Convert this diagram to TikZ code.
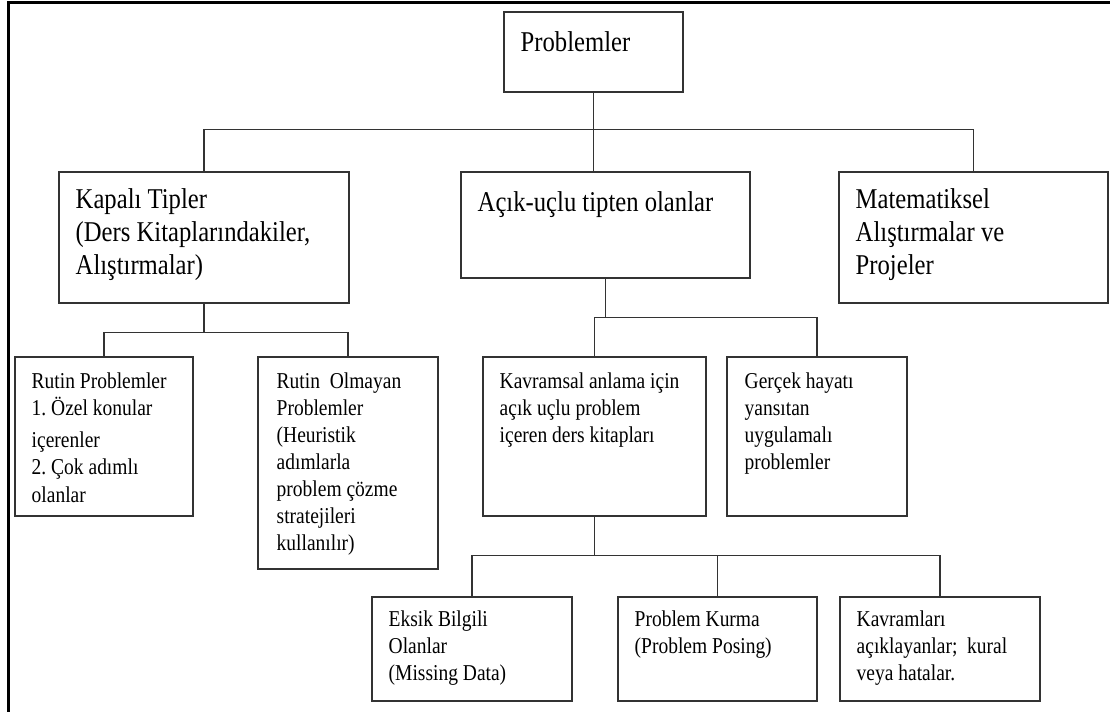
\documentclass[tikz,border=0pt]{standalone}
\usepackage{fontspec}
\setmainfont{Liberation Serif}[FakeStretch=0.86]
\usetikzlibrary{fit,calc}
\newcommand{\buyukyazi}{\fontsize{21.5pt}{24.75pt}\selectfont}
\newcommand{\kucukyazi}{\fontsize{17pt}{20.3pt}\selectfont}

\begin{document}
\begin{tikzpicture}[x=0.75pt, y=-0.75pt,
  kutu/.style={draw=black!80, line width=0.8pt, inner sep=0pt},
  yazi/.style={anchor=north west, inner sep=0pt, align=left,
    execute at begin node=\strut},
  buyuk/.style={yazi, font=\buyukyazi},
  kucuk/.style={yazi, font=\kucukyazi},
  bag/.style={draw=black!80, line width=0.8pt}]
\useasboundingbox (0,0) rectangle (1110,712);
\draw[line width=2.2pt] (8.5,712) -- (8.5,2.5) -- (1110,2.5);

% kutular
\node[kutu, fit={(504,12) (683,92)}] (problemler) {};
\node[kutu, fit={(59,172) (349,303)}] (kapali) {};
\node[kutu, fit={(461,172) (750,278)}] (acik) {};
\node[kutu, fit={(839,172) (1108,303)}] (mat) {};
\node[kutu, fit={(15,357) (193,516)}] (rutin) {};
\node[kutu, fit={(258,357) (438,569)}] (olmayan) {};
\node[kutu, fit={(483,357) (706,516)}] (kavram) {};
\node[kutu, fit={(727,357) (907,516)}] (gercek) {};
\node[kutu, fit={(372,597) (572,701)}] (eksik) {};
\node[kutu, fit={(618,597) (817,701)}] (kurma) {};
\node[kutu, fit={(840,597) (1040,701)}] (kural) {};

% yazilar
\node[buyuk] (problemler-y) at ([shift={(17,17)}]problemler.north west) {Problemler};
\node[buyuk] (kapali-y) at ([shift={(17,17)}]kapali.north west)
  {Kapalı Tipler\\(Ders Kitaplarındakiler,\\Alıştırmalar)};
\node[buyuk] (acik-y) at ([shift={(17,17)}]acik.north west) {Açık-uçlu tipten olanlar};
\node[buyuk] (mat-y) at ([shift={(17,17)}]mat.north west)
  {Matematiksel\\Alıştırmalar ve\\Projeler};
\node[kucuk] (rutin-y) at ([shift={(17,16)}]rutin.north west)
  {Rutin Problemler\\1.\ Özel konular\\[4pt]içerenler\\2.\ Çok adımlı\\olanlar};
\node[kucuk] (olmayan-y) at ([shift={(19,16)}]olmayan.north west)
  {Rutin\ \ Olmayan\\Problemler\\(Heuristik\\adımlarla\\problem çözme\\stratejileri\\kullanılır)};
\node[kucuk] (kavram-y) at ([shift={(17,16)}]kavram.north west)
  {Kavramsal anlama için\\açık uçlu problem\\içeren ders kitapları};
\node[kucuk] (gercek-y) at ([shift={(18,16)}]gercek.north west)
  {Gerçek hayatı\\yansıtan\\uygulamalı\\problemler};
\node[kucuk] (eksik-y) at ([shift={(17,14)}]eksik.north west)
  {Eksik Bilgili\\Olanlar\\(Missing Data)};
\node[kucuk] (kurma-y) at ([shift={(17,14)}]kurma.north west)
  {Problem Kurma\\(Problem Posing)};
\node[kucuk] (kural-y) at ([shift={(17,14)}]kural.north west)
  {Kavramları\\açıklayanlar;\ \ kural\\veya hatalar.};

% baglantilar
\draw[bag] (problemler.south) -- (problemler.south |- acik.north);
\draw[bag] (kapali.north) -- ++(0,-42) -| (mat.north);
\draw[bag] (kapali.south) -- ++(0,29) coordinate (k1);
\draw[bag] (rutin.north) |- (k1) -| (olmayan.north);
\draw[bag] (acik.south) -- ++(0,39) coordinate (a1);
\draw[bag] (kavram.north) |- (a1) -| (gercek.north);
\draw[bag] (kavram.south) -- ++(0,39) coordinate (b1);
\draw[bag] (eksik.north) |- (b1) -| (kural.north);
\draw[bag] (kurma.north) -- (kurma.north |- b1);
\end{tikzpicture}
\end{document}
